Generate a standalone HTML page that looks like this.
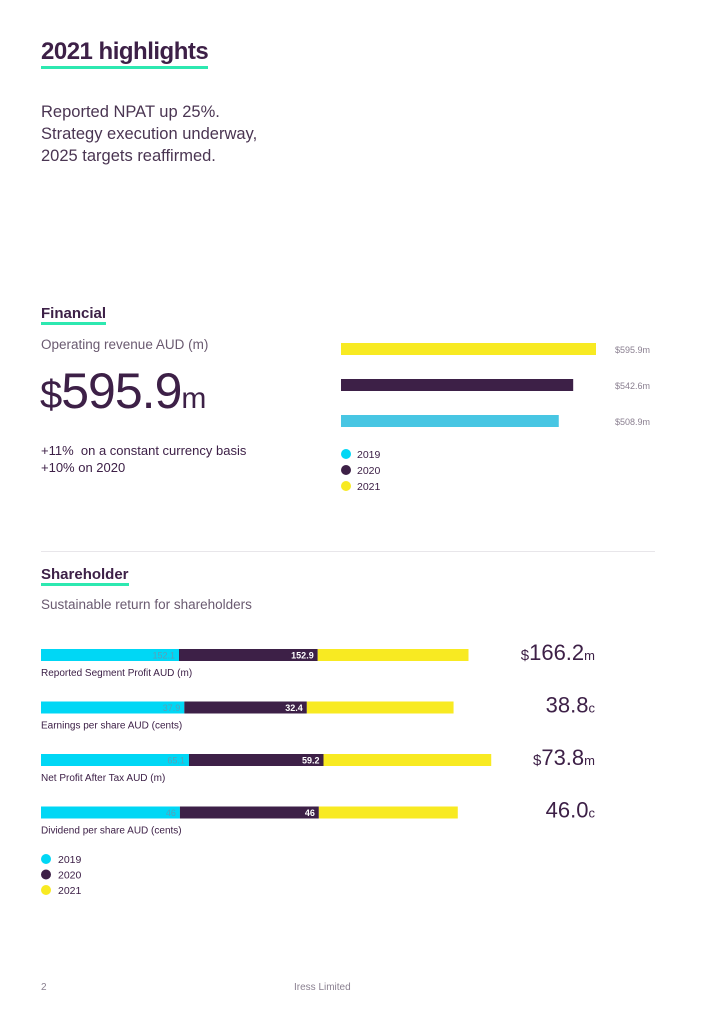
<!DOCTYPE html>
<html><head><meta charset="utf-8">
<style>
body{margin:0;width:724px;height:1024px;background:#fff;position:relative;font-family:"Liberation Sans",sans-serif;color:#3d2047;overflow:hidden}
.a{position:absolute;white-space:nowrap}
.h{font-weight:bold}
.ul{border-bottom:3px solid #2de8b0;line-height:1}
</style></head><body>
<div class="a h" style="left:41px;top:38px;font-size:24px;letter-spacing:-0.5px"><span class="ul" style="padding-bottom:1px">2021 highlights</span></div>
<div class="a" style="left:41px;top:101px;font-size:16.5px;line-height:22px;color:#4a3552">Reported NPAT up 25%.<br>Strategy execution underway,<br>2025 targets reaffirmed.</div>

<div class="a h" style="left:41px;top:305px;font-size:15px"><span class="ul">Financial</span></div>
<div class="a" style="left:41px;top:337px;font-size:13.5px;color:#6a5a70">Operating revenue AUD (m)</div>
<div class="a" style="left:40px;top:362px;font-size:50px;font-weight:300;letter-spacing:-1px"><span style="font-size:40px">$</span>595.9<span style="font-size:30px">m</span></div>
<div class="a" style="left:41px;top:442px;font-size:13px;line-height:17px">+11%&nbsp; on a constant currency basis<br>+10% on 2020</div>

<svg class="a" id="rev" style="left:0;top:0" width="724" height="520"></svg>

<div class="a" style="left:41px;top:551px;width:614px;height:1px;background:#e8e6ea"></div>

<div class="a h" style="left:41px;top:566px;font-size:15px"><span class="ul">Shareholder</span></div>
<div class="a" style="left:41px;top:597px;font-size:13.5px;color:#6a5a70">Sustainable return for shareholders</div>

<svg class="a" id="sh" style="left:0;top:620px" width="724" height="290"></svg>

<div class="a" style="left:41px;top:982px;font-size:10px;color:#8a8090">2</div>
<div class="a" style="left:294px;top:982px;font-size:10px;color:#8a8090">Iress Limited</div>

<script>
const revYears=["2021","2020","2019"];
const revValues=[595.9,542.6,508.9];
const revLabels=["$595.9m","$542.6m","$508.9m"];
const revColors=["#f8ea22","#3d2047","#48c6e3"];
const legendYears=["2019","2020","2021"];
const legendColors=["#00d7f5","#3d2047","#f8ea22"];

const shCats=["Reported Segment Profit AUD (m)","Earnings per share AUD (cents)","Net Profit After Tax AUD (m)","Dividend per share AUD (cents)"];
const sh2019=[152.1,37.9,65.1,46];
const sh2020=[152.9,32.4,59.2,46];
const sh2021=[166.2,38.8,73.8,46.0];
const shAxisMax=[496,119,198,149];
const shBigPrefix=["$","","$",""];
const shBigSuffix=["m","c","m","c"];
const shLabel2019=["152.1","37.9","65.1","46"];
const shLabel2020=["152.9","32.4","59.2","46"];

const NS="http://www.w3.org/2000/svg";
function mk(p,t,a){const e=document.createElementNS(NS,t);for(const k in a)e.setAttribute(k,a[k]);p.appendChild(e);return e;}

const rev=document.getElementById('rev');
const rx0=341,rw=255,rMax=595.9;
const rx=v=>rx0+v/rMax*rw;
revValues.forEach((v,i)=>{
  const y=343+i*36;
  const r=mk(rev,'rect',{x:rx0,y:y,width:rx(v)-rx0,height:12,fill:revColors[i]});
  
  
  const t=mk(rev,'text',{x:615,y:y+10,'font-size':9,fill:'#8a7f90','font-family':'Liberation Sans'});
  t.textContent=revLabels[i];
  
  
});
legendYears.forEach((yr,i)=>{
  const y=454+i*16;
  const c=mk(rev,'circle',{cx:346,cy:y,r:5,fill:legendColors[i]});
  
  
  const t=mk(rev,'text',{x:357,y:y+4,'font-size':10.5,fill:'#3d2047','font-family':'Liberation Sans'});
  t.textContent=yr;
  
  
});

const sh=document.getElementById('sh');
const sx0=41,sw=450;
shCats.forEach((cat,i)=>{
  const y=29+i*52.5;
  const sc=v=>v/shAxisMax[i]*sw;
  const x1=sx0+sc(sh2019[i]),x2=x1+sc(sh2020[i]),x3=x2+sc(sh2021[i]);
  let r=mk(sh,'rect',{x:sx0,y:y,width:x1-sx0,height:12,fill:'#00d7f5'});
  
  
  r=mk(sh,'rect',{x:x1,y:y,width:x2-x1,height:12,fill:'#3d2047'});
  
  
  r=mk(sh,'rect',{x:x2,y:y,width:x3-x2,height:12,fill:'#f8ea22'});
  
  
  let t=mk(sh,'text',{x:x1-4,y:y+9.5,'font-size':9,fill:'#5a9fb8','text-anchor':'end','font-family':'Liberation Sans'});
  t.textContent=shLabel2019[i];
  
  
  t=mk(sh,'text',{x:x2-4,y:y+9.5,'font-size':9,fill:'#fff','font-weight':'bold','text-anchor':'end','font-family':'Liberation Sans'});
  t.textContent=shLabel2020[i];
  
  
  t=mk(sh,'text',{x:41,y:y+27,'font-size':10,fill:'#3d2047','font-family':'Liberation Sans'});
  t.textContent=cat;
  
  
  t=mk(sh,'text',{x:595,y:y+11,'font-size':22,fill:'#3d2047','text-anchor':'end','font-family':'Liberation Sans'});
  const p=mk(t,'tspan',{'font-size':15});p.textContent=shBigPrefix[i];
  const m=mk(t,'tspan',{});m.textContent=sh2021[i].toFixed(1);
  const s=mk(t,'tspan',{'font-size':13});s.textContent=shBigSuffix[i];
  
  
});
legendYears.forEach((yr,i)=>{
  const y=239+i*15.5;
  const c=mk(sh,'circle',{cx:46,cy:y,r:5,fill:legendColors[i]});
  
  
  const t=mk(sh,'text',{x:58,y:y+4,'font-size':10.5,fill:'#3d2047','font-family':'Liberation Sans'});
  t.textContent=yr;
  
  
});
</script>
</body></html>
